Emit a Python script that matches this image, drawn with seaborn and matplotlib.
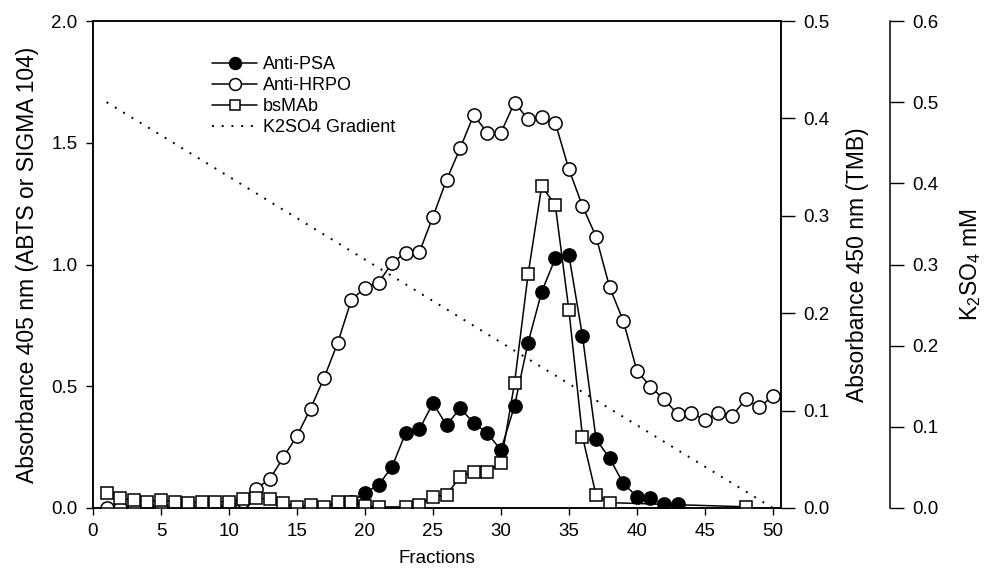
import matplotlib
matplotlib.use("Agg")
import matplotlib.pyplot as plt
import seaborn as sns
from matplotlib.ticker import FormatStrFormatter

# ---- data ----
psa_frac = [18, 19, 20, 21, 22, 23, 24, 25, 26, 27, 28, 29, 30, 31, 32, 33, 34, 35,
            36, 37, 38, 39, 40, 41, 42, 43]
psa_vals = [0.015, 0.025, 0.063, 0.094, 0.170, 0.309, 0.323, 0.430, 0.341, 0.409,
            0.350, 0.307, 0.238, 0.419, 0.679, 0.888, 1.025, 1.039, 0.706, 0.282,
            0.204, 0.101, 0.047, 0.040, 0.015, 0.015]

hrpo_frac = list(range(1, 51))
hrpo_vals = [0.0, 0.0, 0.0, 0.0, 0.0, 0.0, 0.0, 0.0, 0.0, 0.005,
             0.03, 0.08, 0.118, 0.208, 0.296, 0.408, 0.535, 0.679, 0.854, 0.905,
             0.925, 1.007, 1.049, 1.05, 1.196, 1.347, 1.477, 1.614, 1.541, 1.541,
             1.665, 1.596, 1.604, 1.582, 1.391, 1.240, 1.114, 0.906, 0.769, 0.564,
             0.498, 0.446, 0.386, 0.391, 0.361, 0.391, 0.378, 0.446, 0.413, 0.460]

bsmab_frac = [1, 2, 3, 4, 5, 6, 7, 8, 9, 10, 11, 12, 13, 14, 15, 16, 17, 18, 19, 20,
              21, 23, 24, 25, 26, 27, 28, 29, 30, 31, 32, 33, 34, 35, 36, 37, 38, 48]
bsmab_vals = [0.060, 0.040, 0.033, 0.026, 0.033, 0.026, 0.019, 0.026, 0.026, 0.026,
              0.037, 0.040, 0.037, 0.019, 0.005, 0.012, 0.005, 0.023, 0.023, 0.009,
              0.004, 0.005, 0.012, 0.047, 0.053, 0.129, 0.149, 0.149, 0.186, 0.512,
              0.960, 1.322, 1.244, 0.813, 0.293, 0.053, 0.022, 0.005]

grad_frac = [1, 50]
grad_vals = [0.5, 0.0]

left_ticks = [0.0, 0.5, 1.0, 1.5, 2.0]
tmb_ticks = [0.0, 0.1, 0.2, 0.3, 0.4, 0.5]
k_ticks = [0.0, 0.1, 0.2, 0.3, 0.4, 0.5, 0.6]
x_ticks = list(range(0, 51, 5))

# ---- style ----
sns.set_style("ticks")
plt.rcParams['font.family'] = ['Liberation Sans', 'DejaVu Sans']
plt.rcParams['mathtext.fontset'] = 'custom'
plt.rcParams['mathtext.rm'] = 'Liberation Sans'
plt.rcParams['mathtext.it'] = 'Liberation Sans'
for k in ('text.color', 'axes.labelcolor', 'xtick.color', 'ytick.color',
          'axes.edgecolor'):
    plt.rcParams[k] = 'black'

fig = plt.figure(figsize=(9.84, 5.86), dpi=100)
ax = fig.add_axes([93 / 984, 1 - 508 / 586, (781 - 93) / 984, (508 - 21) / 586])
ax2 = ax.twinx()
ax3 = ax.twinx()

lw = 1.1
mew = 1.1
sns.lineplot(x=psa_frac, y=psa_vals, ax=ax, color='black', linewidth=lw,
             marker='o', markersize=9.5, markerfacecolor='black',
             markeredgecolor='black', markeredgewidth=mew, label='Anti-PSA',
             zorder=3)
sns.lineplot(x=hrpo_frac, y=hrpo_vals, ax=ax, color='black', linewidth=lw,
             marker='o', markersize=9.5, markerfacecolor='white',
             markeredgecolor='black', markeredgewidth=mew, label='Anti-HRPO',
             zorder=4)
sns.lineplot(x=bsmab_frac, y=bsmab_vals, ax=ax, color='black', linewidth=lw,
             marker='s', markersize=8.5, markerfacecolor='white',
             markeredgecolor='black', markeredgewidth=mew, label='bsMAb',
             zorder=5)
sns.lineplot(x=grad_frac, y=grad_vals, ax=ax3, color='black', linewidth=1.4,
             linestyle=(0, (1, 4.0)), label='K2SO4 Gradient')

if ax.get_legend() is not None:
    ax.get_legend().remove()
if ax3.get_legend() is not None:
    ax3.get_legend().remove()

ax.set_xlim(0, 50.6)
ax.set_ylim(0, 2.0)
ax2.set_ylim(0, 0.5)
ax3.set_ylim(0, 0.6)

ax.set_xticks(x_ticks)
ax.set_yticks(left_ticks)
ax2.set_yticks(tmb_ticks)
ax3.set_yticks(k_ticks)
ax.yaxis.set_major_formatter(FormatStrFormatter('%.1f'))
ax2.yaxis.set_major_formatter(FormatStrFormatter('%.1f'))
ax3.yaxis.set_major_formatter(FormatStrFormatter('%.1f'))

for a in (ax, ax2, ax3):
    for s in a.spines.values():
        s.set_linewidth(1.1)
        s.set_color('black')
ax.tick_params(direction='out', length=5, width=1.0, labelsize=13.5,
               colors='black', pad=6)
for a in (ax2, ax3):
    a.tick_params(direction='out', length=10, width=1.0, labelsize=13.5,
                  colors='black', pad=6)

ax.spines['top'].set_visible(True)
ax.spines['right'].set_visible(True)
ax2.spines['top'].set_visible(True)
ax3.spines['top'].set_visible(False)
ax3.spines['left'].set_visible(False)
ax3.spines['bottom'].set_visible(False)
ax3.spines['right'].set_position(('axes', (890 - 93) / (781 - 93)))

ax.set_xlabel('Fractions', fontsize=13.5, labelpad=7)
ax.set_ylabel('Absorbance 405 nm (ABTS or SIGMA 104)', fontsize=16.5, labelpad=9)
ax2.set_ylabel('Absorbance 450 nm (TMB)', fontsize=16.5, labelpad=12, rotation=90)
ax3.set_ylabel('K$_2$SO$_4$ mM', fontsize=16.5, labelpad=14, rotation=90)

handles = list(ax.get_lines()[:3]) + [ax3.get_lines()[0]]
labels = ['Anti-PSA', 'Anti-HRPO', 'bsMAb', 'K2SO4 Gradient']
ax3.legend(handles, labels, loc='upper left',
           bbox_to_anchor=(212 / 984, 1 - 56 / 586), bbox_transform=fig.transFigure,
           frameon=False, fontsize=13, handlelength=2.5, handletextpad=0.3,
           labelspacing=0.22, numpoints=1, borderpad=0, borderaxespad=0,
           markerscale=0.9)

fig.savefig('out.png', dpi=100)
